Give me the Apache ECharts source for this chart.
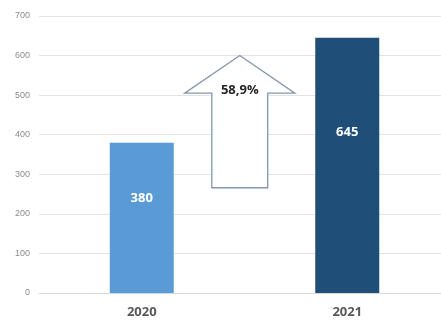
<!DOCTYPE html>
<html>
<head>
<meta charset="utf-8">
<script src="https://cdn.jsdelivr.net/npm/echarts@6/dist/echarts.min.js"></script>
<style>
  html, body { margin: 0; padding: 0; background: #fff; }
  #chart { width: 441px; height: 321px; }
</style>
</head>
<body>
<div id="chart"></div>
<script>
// Years and their totals
const years = ['2020', '2021'];
const totals = [380, 645];
const barColors = ['#5b9bd5', '#1f4e79'];

// Growth arrow: tip, head base and tail on the value scale, plus its caption
const arrowTip = [600];
const arrowHeadBase = [505];
const arrowTail = [266];
const arrowCaption = ['58,9%'];

// Value axis range
const yMin = 0, yMax = 700, yStep = 100;

const chart = echarts.init(document.getElementById('chart'), null, { renderer: 'canvas' });

chart.setOption({
  animation: false,
  backgroundColor: '#ffffff',
  grid: {
    left: 39, top: 16, bottom: 28, width: 411,
    containLabel: false, outerBoundsMode: 'none'
  },
  xAxis: {
    type: 'category',
    data: years,
    axisLine: { show: true, lineStyle: { color: '#d9d9d9', width: 1 } },
    axisTick: { show: false },
    axisLabel: {
      color: '#595959', fontFamily: 'Open Sans', fontWeight: 'bold', fontSize: 13, margin: 13
    }
  },
  yAxis: {
    type: 'value',
    min: yMin, max: yMax, interval: yStep,
    axisLine: { show: false },
    axisTick: { show: false },
    axisLabel: { color: '#8c8c8c', fontFamily: 'Liberation Sans', fontSize: 9, margin: 9 },
    splitLine: { lineStyle: { color: '#e3e3e3', width: 1 } }
  },
  series: [
    {
      type: 'bar',
      barWidth: 64,
      data: totals.map((v, i) => ({ value: v, itemStyle: { color: barColors[i] } })),
      label: {
        show: true,
        position: ['50%', '37%'],
        align: 'center',
        verticalAlign: 'middle',
        color: '#ffffff',
        fontFamily: 'Open Sans',
        fontWeight: 'bold',
        fontSize: 13
      },
      z: 2
    },
    {
      type: 'custom',
      data: [[0, arrowTip[0], arrowHeadBase[0], arrowTail[0]]],
      z: 3,
      renderItem: function (params, api) {
        const tip = api.value(1), base = api.value(2), tail = api.value(3);
        const p0 = api.coord([0, tip]);
        const p1 = api.coord([1, tip]);
        const span = p1[0] - p0[0];
        const cx = p0[0] + span * 0.477;
        const headHalf = span * 0.268;
        const shaftHalf = span * 0.136;
        const yTip = p0[1];
        const yBase = api.coord([0, base])[1];
        const yTail = api.coord([0, tail])[1];
        return {
          type: 'group',
          children: [
            {
              type: 'polygon',
              shape: {
                points: [
                  [cx, yTip],
                  [cx + headHalf, yBase],
                  [cx + shaftHalf, yBase],
                  [cx + shaftHalf, yTail],
                  [cx - shaftHalf, yTail],
                  [cx - shaftHalf, yBase],
                  [cx - headHalf, yBase]
                ]
              },
              style: { fill: '#ffffff', stroke: '#8497b0', lineWidth: 1.3 }
            },
            {
              type: 'text',
              style: {
                text: arrowCaption[0],
                x: cx,
                y: yBase - 3,
                align: 'center',
                verticalAlign: 'middle',
                fill: '#262626',
                font: 'bold 13px "Open Sans"'
              }
            }
          ]
        };
      }
    }
  ]
});
</script>
</body>
</html>
